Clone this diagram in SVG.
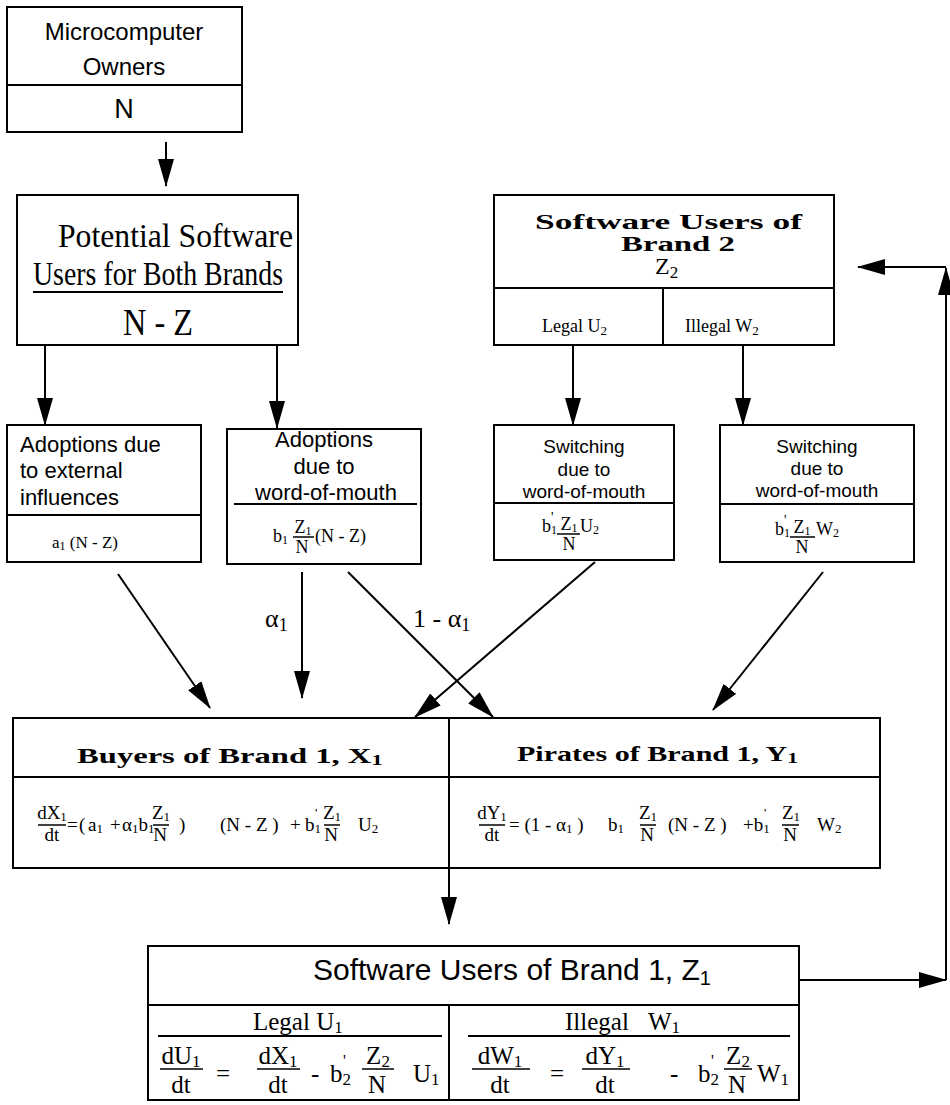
<svg xmlns="http://www.w3.org/2000/svg" width="950" height="1105" viewBox="0 0 950 1105">
<defs>
<marker id="ah" markerUnits="userSpaceOnUse" markerWidth="28" markerHeight="16" refX="27" refY="8" orient="auto">
<path d="M0,0 L28,8 L0,16 z" fill="#000"/>
</marker>
<style>
.box{fill:#fff;stroke:#000;stroke-width:2}
.ln{stroke:#000;stroke-width:2;fill:none}
.thin{stroke:#000;stroke-width:1.5;fill:none}
.sans{font-family:"Liberation Sans",Arial,sans-serif;fill:#000}
.serif{font-family:"Liberation Serif","Times New Roman",serif;fill:#000}
.bold{font-weight:bold}
.mid{text-anchor:middle}
.f19{font-size:19px}
.f25{font-size:25px}
</style>
</defs>
<rect width="950" height="1105" fill="#fff"/>

<g id="connectors">
<line class="ln" x1="166" y1="142" x2="166" y2="186" marker-end="url(#ah)"/>
<line class="ln" x1="45" y1="345" x2="45" y2="425" marker-end="url(#ah)"/>
<line class="ln" x1="277" y1="345" x2="277" y2="428" marker-end="url(#ah)"/>
<line class="ln" x1="573" y1="345" x2="573" y2="425" marker-end="url(#ah)"/>
<line class="ln" x1="743" y1="345" x2="743" y2="425" marker-end="url(#ah)"/>
<line class="ln" x1="118" y1="574" x2="210" y2="708" marker-end="url(#ah)"/>
<line class="ln" x1="302" y1="572" x2="302" y2="698" marker-end="url(#ah)"/>
<line class="ln" x1="348" y1="572" x2="493" y2="717" marker-end="url(#ah)"/>
<line class="ln" x1="595" y1="562" x2="415" y2="717" marker-end="url(#ah)"/>
<line class="ln" x1="823" y1="572" x2="713" y2="710" marker-end="url(#ah)"/>
<line class="ln" x1="449" y1="868" x2="449" y2="924" marker-end="url(#ah)"/>
<line class="ln" x1="799" y1="980" x2="946" y2="980" marker-end="url(#ah)"/>
<line class="ln" x1="946" y1="980" x2="946" y2="268" marker-end="url(#ah)"/>
<line class="ln" x1="946" y1="267" x2="858" y2="267" marker-end="url(#ah)"/>
<text class="serif" x="265" y="627" font-size="26">α<tspan dy="4" font-size="18">1</tspan></text>
<text class="serif" x="413" y="627" font-size="26">1 - α<tspan dy="4" font-size="18">1</tspan></text>
</g>

<g id="owners">
<rect class="box" x="7" y="7" width="235" height="125"/>
<line class="ln" x1="7" y1="85" x2="242" y2="85"/>
<text class="sans mid" x="124" y="40" font-size="24">Microcomputer</text>
<text class="sans mid" x="124" y="75" font-size="24">Owners</text>
<text class="sans mid" x="124" y="118" font-size="27">N</text>
</g>

<g id="potential">
<rect class="box" x="17" y="195" width="281" height="150"/>
<text class="serif" x="58" y="247" font-size="34" textLength="235" lengthAdjust="spacingAndGlyphs">Potential Software</text>
<text class="serif" x="33" y="285" font-size="34" textLength="250" lengthAdjust="spacingAndGlyphs">Users  for Both Brands</text>
<line class="ln" x1="33" y1="292" x2="283" y2="292"/>
<text class="serif mid" x="158" y="335" font-size="38" textLength="70" lengthAdjust="spacingAndGlyphs">N - Z</text>
</g>

<g id="brand2">
<rect class="box" x="494" y="195" width="340" height="150"/>
<line class="ln" x1="494" y1="288" x2="834" y2="288"/>
<line class="ln" x1="663" y1="288" x2="663" y2="345"/>
<text class="serif bold" x="535" y="229" font-size="20" textLength="267" lengthAdjust="spacingAndGlyphs">Software Users of</text>
<text class="serif bold" x="621" y="251" font-size="20" textLength="114" lengthAdjust="spacingAndGlyphs">Brand 2</text>
<text class="serif" x="655" y="274" font-size="24">Z<tspan dy="4" font-size="17">2</tspan></text>
<text class="serif" x="542" y="332" font-size="18">Legal U<tspan dy="3" font-size="13">2</tspan></text>
<text class="serif" x="685" y="332" font-size="18">Illegal W<tspan dy="3" font-size="13">2</tspan></text>
</g>

<g id="external">
<rect class="box" x="7" y="425" width="194" height="137"/>
<line class="ln" x1="7" y1="515" x2="201" y2="515"/>
<text class="sans" x="20" y="452" font-size="22">Adoptions due</text>
<text class="sans" x="20" y="478" font-size="22">to external</text>
<text class="sans" x="20" y="505" font-size="22">influences</text>
<text class="serif" x="52" y="548" font-size="17">a<tspan dy="2" font-size="12">1</tspan><tspan dy="-2"> (N - Z)</tspan></text>
</g>

<g id="wom">
<rect class="box" x="227" y="429" width="194" height="135"/>
<line class="ln" x1="234" y1="504" x2="417" y2="504"/>
<text class="sans mid" x="324" y="447" font-size="22">Adoptions</text>
<text class="sans mid" x="324" y="474" font-size="22">due to</text>
<text class="sans mid" x="326" y="500" font-size="22">word-of-mouth</text>
<text class="serif" x="273" y="542" font-size="18">b<tspan dy="2" font-size="12">1</tspan></text>
<text class="serif mid" x="303" y="533" font-size="18">Z<tspan dy="2" font-size="12">1</tspan></text>
<line class="thin" x1="293" y1="537" x2="314" y2="537"/>
<text class="serif mid" x="302" y="553" font-size="18">N</text>
<text class="serif" x="315" y="542" font-size="18">(N - Z)</text>
</g>

<g id="switchU">
<rect class="box" x="494" y="425" width="180" height="135"/>
<line class="ln" x1="494" y1="503" x2="674" y2="503"/>
<text class="sans mid" x="584" y="453" font-size="19">Switching</text>
<text class="sans mid" x="584" y="476" font-size="19">due to</text>
<text class="sans mid" x="584" y="498" font-size="19">word-of-mouth</text>
<text class="serif" x="542" y="532" font-size="18">b<tspan dy="2" font-size="12">1</tspan></text>
<text class="serif" x="551" y="522" font-size="14">'</text>
<text class="serif mid" x="569" y="530" font-size="18">Z<tspan dy="2" font-size="12">1</tspan></text>
<line class="thin" x1="557" y1="534" x2="580" y2="534"/>
<text class="serif mid" x="569" y="550" font-size="18">N</text>
<text class="serif" x="580" y="532" font-size="18">U<tspan dy="2" font-size="12">2</tspan></text>
</g>

<g id="switchW">
<rect class="box" x="720" y="425" width="194" height="137"/>
<line class="ln" x1="720" y1="504" x2="914" y2="504"/>
<text class="sans mid" x="817" y="453" font-size="19">Switching</text>
<text class="sans mid" x="817" y="475" font-size="19">due to</text>
<text class="sans mid" x="817" y="497" font-size="19">word-of-mouth</text>
<text class="serif" x="775" y="535" font-size="18">b<tspan dy="2" font-size="12">1</tspan></text>
<text class="serif" x="784" y="525" font-size="14">'</text>
<text class="serif mid" x="802" y="533" font-size="18">Z<tspan dy="2" font-size="12">1</tspan></text>
<line class="thin" x1="790" y1="537" x2="815" y2="537"/>
<text class="serif mid" x="802" y="553" font-size="18">N</text>
<text class="serif" x="816" y="535" font-size="18">W<tspan dy="2" font-size="12">2</tspan></text>
</g>

<g id="buyers-pirates">
<rect class="box" x="13" y="718" width="867" height="150"/>
<line class="ln" x1="13" y1="777" x2="880" y2="777"/>
<line class="ln" x1="449" y1="718" x2="449" y2="868"/>
</g>

<g id="buyers">
<text class="serif bold" x="77" y="763" font-size="21" textLength="306" lengthAdjust="spacingAndGlyphs">Buyers of Brand 1,  X<tspan dy="2" font-size="15">1</tspan></text>
<text class="serif mid f19" x="52" y="819">dX<tspan dy="2" font-size="13">1</tspan></text>
<line class="thin" x1="38" y1="825" x2="66" y2="825"/>
<text class="serif mid f19" x="52" y="841">dt</text>
<text class="serif f19" x="67" y="831">=</text>
<text class="serif f19" x="79" y="831">(</text>
<text class="serif f19" x="88" y="831">a<tspan dy="2" font-size="13">1</tspan></text>
<text class="serif f19" x="110" y="831">+</text>
<text class="serif f19" x="122" y="831">α<tspan dy="2" font-size="13">1</tspan><tspan dy="-2">b</tspan><tspan dy="2" font-size="13">1</tspan></text>
<text class="serif mid f19" x="161" y="819">Z<tspan dy="2" font-size="13">1</tspan></text>
<line class="thin" x1="153" y1="825" x2="169" y2="825"/>
<text class="serif mid f19" x="160" y="841">N</text>
<text class="serif f19" x="179" y="831">)</text>
<text class="serif f19" x="220" y="831">(N - Z )</text>
<text class="serif f19" x="290" y="831">+</text>
<text class="serif f19" x="305" y="831">b<tspan dy="2" font-size="13">1</tspan></text>
<text class="serif" x="315" y="817" font-size="13">'</text>
<text class="serif mid f19" x="332" y="819">Z<tspan dy="2" font-size="13">1</tspan></text>
<line class="thin" x1="324" y1="825" x2="340" y2="825"/>
<text class="serif mid f19" x="331" y="841">N</text>
<text class="serif f19" x="358" y="831">U<tspan dy="2" font-size="13">2</tspan></text>
</g>

<g id="pirates">
<text class="serif bold" x="517" y="761" font-size="21" textLength="281" lengthAdjust="spacingAndGlyphs">Pirates of Brand 1,  Y<tspan dy="2" font-size="15">1</tspan></text>
<text class="serif mid f19" x="492" y="819">dY<tspan dy="2" font-size="13">1</tspan></text>
<line class="thin" x1="479" y1="825" x2="505" y2="825"/>
<text class="serif mid f19" x="492" y="841">dt</text>
<text class="serif f19" x="509" y="831">= (1 - α<tspan dy="2" font-size="13">1</tspan><tspan dy="-2"> )</tspan></text>
<text class="serif f19" x="608" y="831">b<tspan dy="2" font-size="13">1</tspan></text>
<text class="serif mid f19" x="648" y="819">Z<tspan dy="2" font-size="13">1</tspan></text>
<line class="thin" x1="640" y1="825" x2="656" y2="825"/>
<text class="serif mid f19" x="647" y="841">N</text>
<text class="serif f19" x="668" y="831">(N - Z )</text>
<text class="serif f19" x="743" y="831">+b<tspan dy="2" font-size="13">1</tspan></text>
<text class="serif" x="764" y="817" font-size="13">'</text>
<text class="serif mid f19" x="791" y="819">Z<tspan dy="2" font-size="13">1</tspan></text>
<line class="thin" x1="782" y1="825" x2="799" y2="825"/>
<text class="serif mid f19" x="790" y="841">N</text>
<text class="serif f19" x="817" y="831">W<tspan dy="2" font-size="13">2</tspan></text>
</g>

<g id="brand1">
<rect class="box" x="148" y="946" width="651" height="154"/>
<line class="ln" x1="148" y1="1005" x2="799" y2="1005"/>
<line class="ln" x1="449" y1="1005" x2="449" y2="1100"/>
<text class="sans" x="313" y="980" font-size="30">Software Users of Brand 1, Z<tspan dy="5" font-size="20">1</tspan></text>
<text class="serif f25" x="253" y="1030">Legal U<tspan dy="3" font-size="17">1</tspan></text>
<text class="serif f25" x="565" y="1030">Illegal</text>
<text class="serif f25" x="648" y="1030">W<tspan dy="3" font-size="17">1</tspan></text>
<line class="ln" x1="158" y1="1036" x2="442" y2="1036"/>
<line class="ln" x1="468" y1="1036" x2="790" y2="1036"/>
<text class="serif mid f25" x="181" y="1064">dU<tspan dy="3" font-size="17">1</tspan></text>
<line class="thin" x1="160" y1="1069" x2="203" y2="1069"/>
<text class="serif mid f25" x="181" y="1093">dt</text>
<text class="serif f25" x="216" y="1082">=</text>
<text class="serif mid f25" x="278" y="1064">dX<tspan dy="3" font-size="17">1</tspan></text>
<line class="thin" x1="257" y1="1069" x2="300" y2="1069"/>
<text class="serif mid f25" x="278" y="1093">dt</text>
<text class="serif f25" x="311" y="1082">-</text>
<text class="serif f25" x="330" y="1082">b<tspan dy="3" font-size="17">2</tspan></text>
<text class="serif" x="343" y="1066" font-size="16">'</text>
<text class="serif mid f25" x="378" y="1064">Z<tspan dy="3" font-size="17">2</tspan></text>
<line class="thin" x1="362" y1="1069" x2="394" y2="1069"/>
<text class="serif mid f25" x="377" y="1093">N</text>
<text class="serif f25" x="413" y="1082">U<tspan dy="3" font-size="17">1</tspan></text>
<text class="serif mid f25" x="500" y="1064">dW<tspan dy="3" font-size="17">1</tspan></text>
<line class="thin" x1="472" y1="1069" x2="530" y2="1069"/>
<text class="serif mid f25" x="500" y="1093">dt</text>
<text class="serif f25" x="550" y="1082">=</text>
<text class="serif mid f25" x="605" y="1064">dY<tspan dy="3" font-size="17">1</tspan></text>
<line class="thin" x1="582" y1="1069" x2="630" y2="1069"/>
<text class="serif mid f25" x="605" y="1093">dt</text>
<text class="serif f25" x="670" y="1082">-</text>
<text class="serif f25" x="698" y="1082">b<tspan dy="3" font-size="17">2</tspan></text>
<text class="serif" x="711" y="1066" font-size="16">'</text>
<text class="serif mid f25" x="738" y="1064">Z<tspan dy="3" font-size="17">2</tspan></text>
<line class="thin" x1="724" y1="1069" x2="752" y2="1069"/>
<text class="serif mid f25" x="737" y="1093">N</text>
<text class="serif f25" x="757" y="1082">W<tspan dy="3" font-size="17">1</tspan></text>
</g>
</svg>
